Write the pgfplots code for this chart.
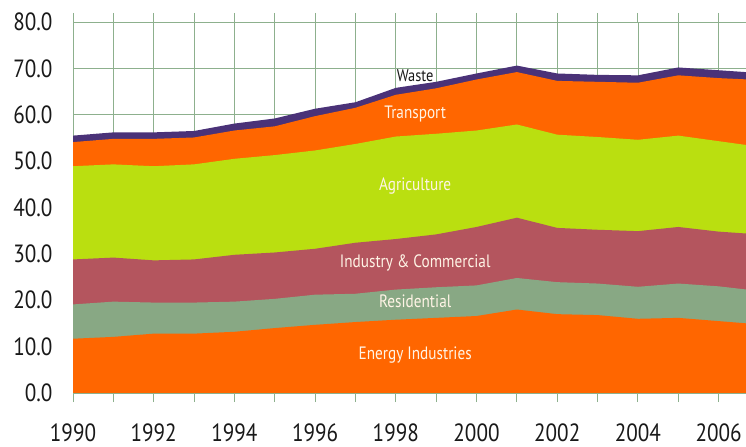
\documentclass[border=0pt]{standalone}
\usepackage{fontspec}
\setmainfont{PT Sans}[FakeStretch=0.85]
\usepackage{pgfplots}
\pgfplotsset{compat=1.18}
\usepackage{pgfplotstable}

\definecolor{energyc}{HTML}{FF6600}
\definecolor{residc}{HTML}{88A884}
\definecolor{indc}{HTML}{B4555E}
\definecolor{agric}{HTML}{BADF10}
\definecolor{transc}{HTML}{FF6600}
\definecolor{wastec}{HTML}{4A3278}
\definecolor{gridc}{HTML}{8DB08D}
\definecolor{labc}{HTML}{FFF4E6}

% cumulative totals (top edge of each band)
\pgfplotstableread{
year E    R    I    A    T    W
1990 11.7 19.1 28.8 48.9 54.1 55.5
1991 12.1 19.7 29.2 49.3 54.8 56.2
1992 12.8 19.5 28.6 48.9 54.8 56.2
1993 12.8 19.5 28.8 49.3 55.1 56.5
1994 13.2 19.7 29.8 50.5 56.6 58.1
1995 14.0 20.3 30.3 51.3 57.5 59.2
1996 14.7 21.2 31.1 52.3 59.7 61.3
1997 15.3 21.4 32.4 53.7 61.5 62.7
1998 15.8 22.3 33.2 55.3 64.3 65.8
1999 16.2 22.8 34.2 55.9 65.7 67.1
2000 16.6 23.2 35.8 56.6 67.6 68.9
2001 18.0 24.8 37.8 57.9 69.2 70.6
2002 17.0 23.9 35.6 55.7 67.3 68.9
2003 16.8 23.6 35.2 55.2 67.1 68.6
2004 16.0 22.9 34.9 54.6 66.9 68.5
2005 16.2 23.6 35.8 55.5 68.5 70.2
2006 15.5 23.0 34.8 54.3 67.9 69.6
2007 14.8 22.0 34.2 53.1 67.5 69.0
}\emissions

\begin{document}
\begin{tikzpicture}
\useasboundingbox (0,0) rectangle (746bp,447bp);
\clip (0,0) rectangle (746bp,447bp);
\begin{axis}[
    at={(73bp,54bp)}, anchor=south west,
    scale only axis,
    width=686bp, height=371bp,
    xmin=1990, xmax=2007,
    ymin=0, ymax=80,
    xtick={1990,1992,...,2006},
    minor xtick={1991,1993,...,2007},
    ytick={0,10,...,80},
    grid=both,
    major grid style={gridc, line width=0.8pt},
    minor grid style={gridc, line width=0.8pt},
    axis line style={gridc, line width=1pt},
    tick align=outside,
    major tick length=9bp, minor tick length=9bp,
    xtick style={gridc, line width=1pt},
    ytick style={draw=none},
    tick label style={font=\fontsize{25}{25}\selectfont, text=black!90},
    xticklabel style={inner sep=0pt, yshift=-22bp, /pgf/number format/1000 sep={}},
    yticklabel style={xshift=-8bp, /pgf/number format/.cd, fixed, fixed zerofill, precision=1},
    /pgf/number format/assume math mode=true,
]
\addplot[fill=wastec, draw=none] table[x=year, y=W] {\emissions} \closedcycle;
\addplot[fill=transc, draw=none] table[x=year, y=T] {\emissions} \closedcycle;
\addplot[fill=agric, draw=none] table[x=year, y=A] {\emissions} \closedcycle;
\addplot[fill=indc, draw=none] table[x=year, y=I] {\emissions} \closedcycle;
\addplot[fill=residc, draw=none] table[x=year, y=R] {\emissions} \closedcycle;
\addplot[fill=energyc, draw=none] table[x=year, y=E] {\emissions} \closedcycle;

\begin{scope}[every node/.style={font=\fontsize{18}{18}\selectfont, text=labc}]
\node at (axis cs:1998.48,68.5) [text=black!90, font=\fontsize{17}{17}\selectfont] {Waste};
\node at (axis cs:1998.48,60.2) {Transport};
\node at (axis cs:1998.48,44.7) {Agriculture};
\node at (axis cs:1998.48,28.1) {Industry \& Commercial};
\node at (axis cs:1998.48,19.7) {Residential};
\node at (axis cs:1998.48,8.1) {Energy Industries};
\end{scope}
\end{axis}
\end{tikzpicture}
\end{document}
